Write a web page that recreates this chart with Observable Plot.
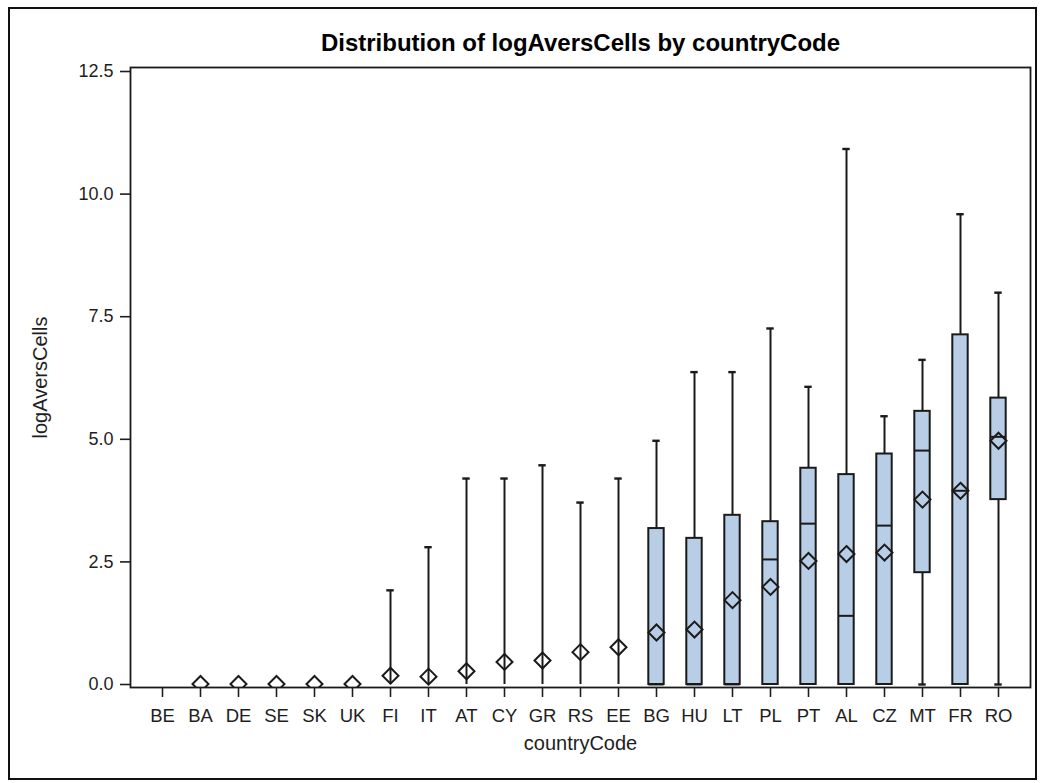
<!DOCTYPE html>
<html>
<head>
<meta charset="utf-8">
<script src="https://cdn.jsdelivr.net/npm/d3@7"></script>
<script src="https://cdn.jsdelivr.net/npm/@observablehq/plot@0.6"></script>
<style>
  html, body { margin: 0; padding: 0; background: #fff; }
  #wrap { position: relative; width: 1040px; height: 783px; }
  #border { position: absolute; left: 8px; top: 7px; width: 1029px; height: 773px;
            border: 2px solid #111; pointer-events: none; box-sizing: border-box; }
</style>
</head>
<body>
<div id="wrap"><div id="border"></div></div>
<script>
// Box-plot summaries of logAversCells for each country
const countries = ["BE","BA","DE","SE","SK","UK","FI","IT","AT","CY","GR","RS","EE","BG","HU","LT","PL","PT","AL","CZ","MT","FR","RO"];
const minValues    = [null,0,0,0,0,0,0,0,0,0,0,0,0,0,0,0,0,0,0,0,0,0,0];
const q1Values     = [null,0,0,0,0,0,0,0,0,0,0,0,0,0,0,0,0,0,0,0,2.28,0,3.77];
const medianValues = [null,0,0,0,0,0,0,0,0,0,0,0,0,0,0,0,2.55,3.28,1.40,3.24,4.77,3.95,5.05];
const q3Values     = [null,0,0,0,0,0,0,0,0,0,0,0,0,3.18,2.98,3.45,3.32,4.41,4.28,4.70,5.57,7.13,5.84];
const maxValues    = [null,0,0,0,0,0,1.92,2.80,4.20,4.20,4.47,3.71,4.20,4.97,6.37,6.37,7.26,6.07,10.92,5.47,6.62,9.59,7.99];
const meanValues   = [null,0.01,0.01,0.01,0.01,0.01,0.18,0.16,0.27,0.46,0.49,0.66,0.76,1.06,1.12,1.72,1.99,2.52,2.66,2.69,3.77,3.95,4.97];
const yTicks = [0, 2.5, 5, 7.5, 10, 12.5];

const stats = countries.map((country, i) => ({
  country,
  min: minValues[i], q1: q1Values[i], median: medianValues[i],
  q3: q3Values[i], max: maxValues[i], mean: meanValues[i]
})).filter(d => d.max != null);

const upperCaps = stats.filter(d => d.max > d.q3);
const lowerCaps = stats.filter(d => d.min < d.q1);
const whiskers = stats.filter(d => d.max > d.min);
const medians = stats.filter(d => d.q3 > d.q1);

const ink = "#1a1a1a";
const boxInset = 7.3;
const capInset = 11.3;

const chart = Plot.plot({
  width: 1040,
  height: 783,
  marginLeft: 130,
  marginRight: 10,
  marginTop: 67,
  marginBottom: 96,
  style: { fontFamily: "'Liberation Sans', Arial, sans-serif", fontSize: "18px", color: "#1e1e1e", background: "transparent" },
  x: { domain: countries, paddingInner: 0.2, paddingOuter: 0.38 },
  y: { domain: [0, 12.5], range: [684, 71] },
  marks: [
    Plot.frame({ stroke: ink, strokeWidth: 1.8 }),
    Plot.axisY({ ticks: yTicks, tickFormat: d3.format(".1f"), tickSize: 10, tickPadding: 7,
                 strokeWidth: 1.6, label: null, fontSize: 18 }),
    Plot.axisX({ tickSize: 10, tickPadding: 11, strokeWidth: 1.6, label: null, fontSize: 18.5 }),
    // axis titles
    Plot.text(["logAversCells"], { text: d => d, frameAnchor: "left", textAnchor: "middle", dx: -90, rotate: -90,
               fontSize: 20, fill: "#1e1e1e" }),
    Plot.text(["countryCode"], { text: d => d, frameAnchor: "bottom", dy: 62,
               fontSize: 20, fill: "#1e1e1e" }),
    // whiskers
    Plot.ruleX(whiskers, { x: "country", y1: "min", y2: "max", stroke: ink, strokeWidth: 2 }),
    Plot.tickY(upperCaps, { x: "country", y: "max", stroke: ink, strokeWidth: 2.4, insetLeft: capInset, insetRight: capInset }),
    Plot.tickY(lowerCaps, { x: "country", y: "min", stroke: ink, strokeWidth: 2.4, insetLeft: capInset, insetRight: capInset }),
    // interquartile boxes
    Plot.barY(stats, { x: "country", y1: "q1", y2: "q3", fill: "#b8cde6", stroke: ink, strokeWidth: 2,
                       insetLeft: boxInset, insetRight: boxInset }),
    Plot.tickY(medians, { x: "country", y: "median", stroke: ink, strokeWidth: 2, insetLeft: boxInset, insetRight: boxInset }),
    // means
    Plot.dot(stats, { x: "country", y: "mean", symbol: "diamond2", r: 7.2, stroke: ink, strokeWidth: 2, fill: "none", clip: true }),
    // title
    Plot.text(["Distribution of logAversCells by countryCode"], { text: d => d, frameAnchor: "top", dy: -34,
               fontWeight: "bold", fontSize: 24, fill: "#000" })
  ]
});

document.getElementById("wrap").prepend(chart);
</script>
</body>
</html>
